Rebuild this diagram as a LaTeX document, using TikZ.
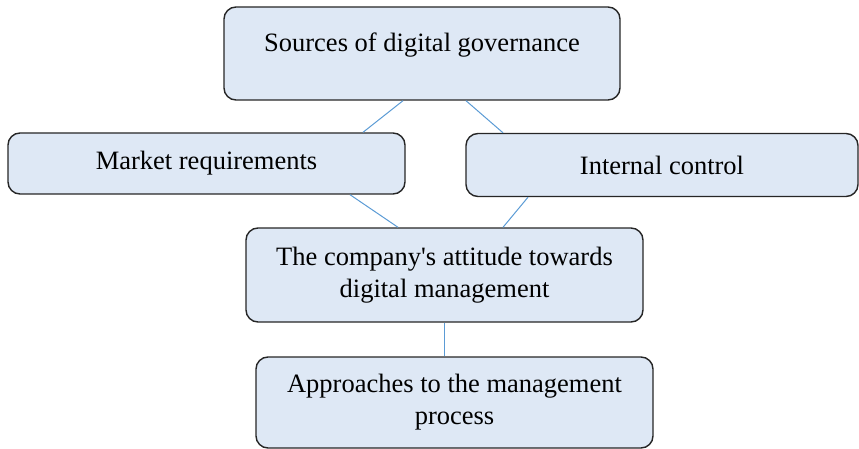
\documentclass[tikz,border=0pt]{standalone}
\usepackage{fontspec}
\setmainfont{Liberation Serif}
\definecolor{boxfill}{HTML}{DEE8F5}
\definecolor{linkblue}{HTML}{5B9BD5}
\begin{document}
\begin{tikzpicture}[x=1pt,y=-1pt,
  box/.style={draw=black!85, line width=1.4pt, fill=boxfill, rounded corners=12pt,
    inner sep=0pt, align=center, font=\fontsize{26.5}{32}\selectfont},
  link/.style={draw=linkblue, line width=1pt}]
\useasboundingbox (0,0) rectangle (859,449);
\node[box, minimum width=396pt, minimum height=93pt,
  label={[font=\fontsize{26.5}{32}\selectfont, yshift=8pt]center:Sources of digital governance}]
  (src) at (422,53.5) {};
\node[box, minimum width=397pt, minimum height=61pt] (mkt) at (206.5,163.5) {Market requirements};
\node[box, minimum width=392pt, minimum height=63pt] (int) at (662,165) {Internal control};
\node[box, minimum width=397pt, minimum height=94pt] (cmp) at (444.5,275) {The company\textquotesingle s attitude towards\\digital management};
\node[box, minimum width=397pt, minimum height=91pt] (app) at (454.5,402.5) {Approaches to the management\\process};
\draw[link] (src.south -| 403,0) -- (mkt.north -| 363,0);
\draw[link] (src.south -| 466,0) -- (int.north -| 503,0);
\draw[link] (mkt.south -| 350,0) -- (cmp.north -| 398,0);
\draw[link] (int.south -| 528,0) -- (cmp.north -| 503,0);
\draw[link] (cmp.south -| 444,0) -- (app.north -| 444,0);
\end{tikzpicture}
\end{document}
